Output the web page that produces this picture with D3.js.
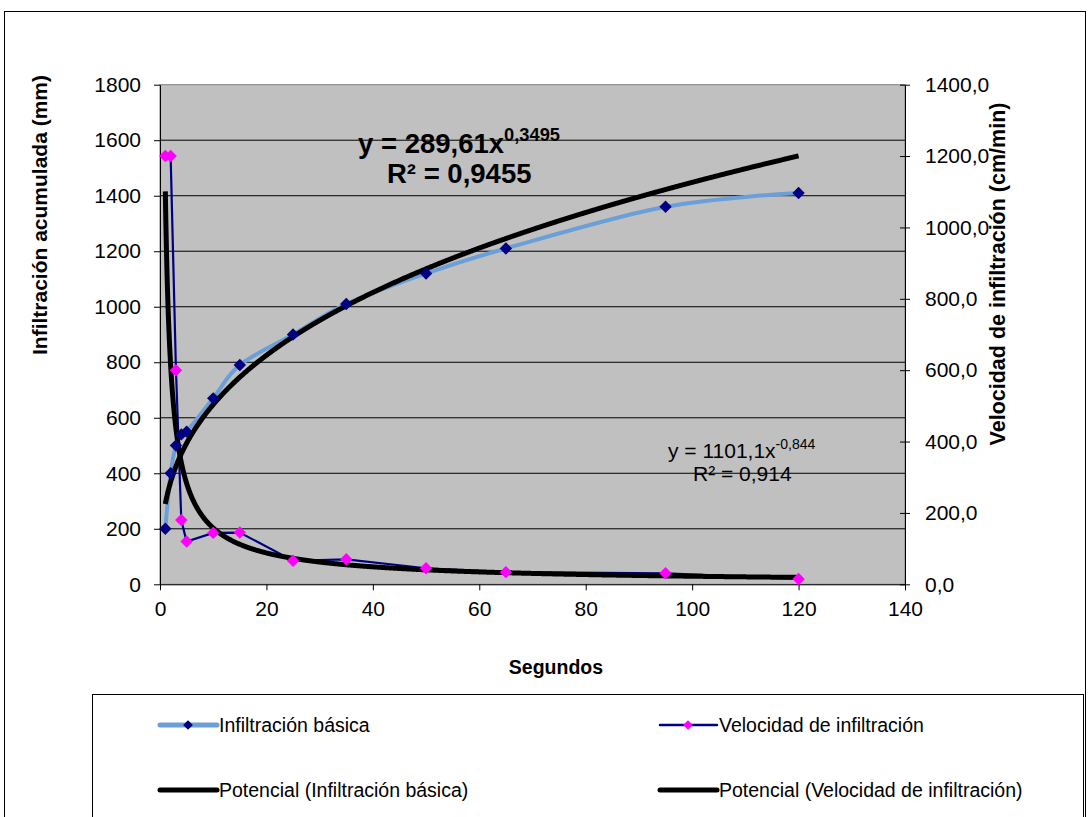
<!DOCTYPE html>
<html>
<head>
<meta charset="utf-8">
<script src="https://cdn.jsdelivr.net/npm/d3@7"></script>
<style>
  body { margin: 0; background: #fff; }
  svg { display: block; font-family: "Liberation Sans", Arial, sans-serif; }
</style>
</head>
<body>
<div id="chart"></div>
<script>
// Data
const segundos = [1, 2, 3, 4, 5, 10, 15, 25, 35, 50, 65, 95, 120];
const infiltracion = [200, 400, 500, 540, 550, 670, 790, 900, 1010, 1120, 1210, 1360, 1410];
const velocidad = [1200, 1200, 600, 180, 120, 144, 145, 66, 70, 45, 34, 31, 15];
const leftTicks = [0, 200, 400, 600, 800, 1000, 1200, 1400, 1600, 1800];
const rightTicks = [0, 200, 400, 600, 800, 1000, 1200, 1400];
const xTicks = [0, 20, 40, 60, 80, 100, 120, 140];
// trend line coefficients (power fit shown on chart)
const trendInf = { a: 289.61, b: 0.3495 };
const trendVel = { a: 1101.1, b: -0.844 };

const width = 1090;
const height = 817;
const plot = { left: 160, right: 905, top: 84.7, bottom: 584.3 };

const svg = d3
  .select("#chart")
  .append("svg")
  .attr("width", width)
  .attr("height", height);

// outer frame
svg
  .append("rect")
  .attr("x", 4.5)
  .attr("y", 11.5)
  .attr("width", 1081)
  .attr("height", 830)
  .attr("fill", "#fff")
  .attr("stroke", "#000");

// Scales
const x = d3.scaleLinear().domain([0, 140]).range([plot.left, plot.right]);
const yL = d3.scaleLinear().domain([0, 1800]).range([plot.bottom, plot.top]);
const yR = d3.scaleLinear().domain([0, 1400]).range([plot.bottom, plot.top]);

// plot area
svg
  .append("rect")
  .attr("x", plot.left)
  .attr("y", plot.top)
  .attr("width", plot.right - plot.left)
  .attr("height", plot.bottom - plot.top)
  .attr("fill", "#C0C0C0")
  .attr("stroke", "#808080");

// gridlines
svg
  .append("g")
  .selectAll("line")
  .data(leftTicks.slice(1, -1))
  .enter()
  .append("line")
  .attr("x1", plot.left)
  .attr("x2", plot.right)
  .attr("y1", (d) => yL(d))
  .attr("y2", (d) => yL(d))
  .attr("stroke", "#000")
  .attr("stroke-width", 1);

const comma = (d) => String(d).replace(".", ",");

// Axes
const styleAxis = (g) => {
  g.selectAll("text")
    .attr("font-family", "Liberation Sans, Arial, sans-serif")
    .attr("font-size", 21)
    .attr("fill", "#000");
  g.selectAll("line").attr("stroke", "#000");
  g.select(".domain").attr("stroke", "#000");
};

svg
  .append("g")
  .attr("transform", `translate(${plot.left},0)`)
  .call(
    d3
      .axisLeft(yL)
      .tickValues(leftTicks)
      .tickSize(6)
      .tickSizeOuter(0)
      .tickPadding(13)
      .tickFormat(d3.format("d"))
  )
  .call(styleAxis);

const rightAxis = svg
  .append("g")
  .attr("transform", `translate(${plot.right},0)`)
  .call(
    d3
      .axisRight(yR)
      .tickValues(rightTicks)
      .tickSize(5)
      .tickSizeOuter(0)
      .tickPadding(15)
      .tickFormat((d) => comma(d3.format(".1f")(d)))
  )
  .call(styleAxis);
rightAxis.selectAll(".tick line").attr("x1", -5);

svg
  .append("g")
  .attr("transform", `translate(0,${plot.bottom})`)
  .call(d3.axisBottom(x).tickValues(xTicks).tickSize(6).tickSizeOuter(0).tickPadding(11))
  .call(styleAxis);

// Axis titles
svg
  .append("text")
  .attr("transform", "translate(47,215) rotate(-90)")
  .attr("text-anchor", "middle")
  .attr("font-size", 21)
  .attr("font-weight", "bold")
  .text("Infiltración acumulada (mm)");
svg
  .append("text")
  .attr("transform", "translate(1005,274) rotate(-90)")
  .attr("text-anchor", "middle")
  .attr("font-size", 21.5)
  .attr("font-weight", "bold")
  .text("Velocidad de infiltración (cm/min)");
svg
  .append("text")
  .attr("x", 556)
  .attr("y", 674)
  .attr("text-anchor", "middle")
  .attr("font-size", 19.5)
  .attr("font-weight", "bold")
  .text("Segundos");

// Series lines
const infData = segundos.map((s, i) => [s, infiltracion[i]]);
const velData = segundos.map((s, i) => [s, velocidad[i]]);

svg
  .append("path")
  .datum(infData)
  .attr("fill", "none")
  .attr("stroke", "#6A9FD8")
  .attr("stroke-width", 4)
  .attr(
    "d",
    d3
      .line()
      .x((d) => x(d[0]))
      .y((d) => yL(d[1]))
      .curve(d3.curveCardinal.tension(0))
  );

svg
  .append("path")
  .datum(velData)
  .attr("fill", "none")
  .attr("stroke", "#000080")
  .attr("stroke-width", 2.2)
  .attr(
    "d",
    d3
      .line()
      .x((d) => x(d[0]))
      .y((d) => yR(d[1]))
  );

// Trend lines (power)
const trendX = d3.range(1, 120.001, 0.1);
svg
  .append("path")
  .datum(trendX)
  .attr("fill", "none")
  .attr("stroke", "#000")
  .attr("stroke-width", 5)
  .attr(
    "d",
    d3
      .line()
      .x((d) => x(d))
      .y((d) => yL(trendInf.a * Math.pow(d, trendInf.b)))
  );
svg
  .append("path")
  .datum(trendX)
  .attr("fill", "none")
  .attr("stroke", "#000")
  .attr("stroke-width", 5)
  .attr(
    "d",
    d3
      .line()
      .x((d) => x(d))
      .y((d) => yR(trendVel.a * Math.pow(d, trendVel.b)))
  );

// Markers
const diamond = d3.symbol().type(d3.symbolDiamond2).size(98);
svg
  .append("g")
  .selectAll("path")
  .data(infData)
  .enter()
  .append("path")
  .attr("d", diamond)
  .attr("transform", (d) => `translate(${x(d[0])},${yL(d[1])})`)
  .attr("fill", "#000080");
svg
  .append("g")
  .selectAll("path")
  .data(velData)
  .enter()
  .append("path")
  .attr("d", diamond)
  .attr("transform", (d) => `translate(${x(d[0])},${yR(d[1])})`)
  .attr("fill", "#FF00FF");

// Equations
const eq1 = svg.append("text").attr("x", 358).attr("y", 153).attr("font-size", 27.5).attr("font-weight", "bold");
eq1.append("tspan").text("y = 289,61x");
eq1.append("tspan").attr("font-size", 18.3).attr("dy", -12).text("0,3495");
svg
  .append("text")
  .attr("x", 387)
  .attr("y", 183)
  .attr("font-size", 27.5)
  .attr("font-weight", "bold")
  .text("R² = 0,9455");

const eq2 = svg.append("text").attr("x", 668).attr("y", 458).attr("font-size", 21);
eq2.append("tspan").text("y = 1101,1x");
eq2.append("tspan").attr("font-size", 14).attr("dy", -9).text("-0,844");
svg
  .append("text")
  .attr("x", 693)
  .attr("y", 481)
  .attr("font-size", 21)
  .text("R² = 0,914");

// Legend
const legend = svg.append("g");
legend
  .append("rect")
  .attr("x", 92.5)
  .attr("y", 694.5)
  .attr("width", 991)
  .attr("height", 140)
  .attr("fill", "#fff")
  .attr("stroke", "#000");

const legendItems = [
  { label: "Infiltración básica", x: 160, y: 725, stroke: "#6A9FD8", sw: 5, marker: "#000080" },
  { label: "Velocidad de infiltración", x: 660, y: 725, stroke: "#000080", sw: 2.5, marker: "#FF00FF" },
  { label: "Potencial (Infiltración básica)", x: 160, y: 790, stroke: "#000", sw: 5, marker: null },
  { label: "Potencial (Velocidad de infiltración)", x: 660, y: 790, stroke: "#000", sw: 5, marker: null },
];
legendItems.forEach((item) => {
  legend
    .append("line")
    .attr("x1", item.x)
    .attr("x2", item.x + 57)
    .attr("y1", item.y)
    .attr("y2", item.y)
    .attr("stroke", item.stroke)
    .attr("stroke-width", item.sw)
    .attr("stroke-linecap", "round");
  if (item.marker) {
    legend
      .append("path")
      .attr("d", d3.symbol().type(d3.symbolDiamond2).size(60))
      .attr("transform", `translate(${item.x + 28},${item.y})`)
      .attr("fill", item.marker);
  }
  legend
    .append("text")
    .attr("x", item.x + 59)
    .attr("y", item.y + 6.5)
    .attr("font-size", 19.5)
    .text(item.label);
});
</script>
</body>
</html>
